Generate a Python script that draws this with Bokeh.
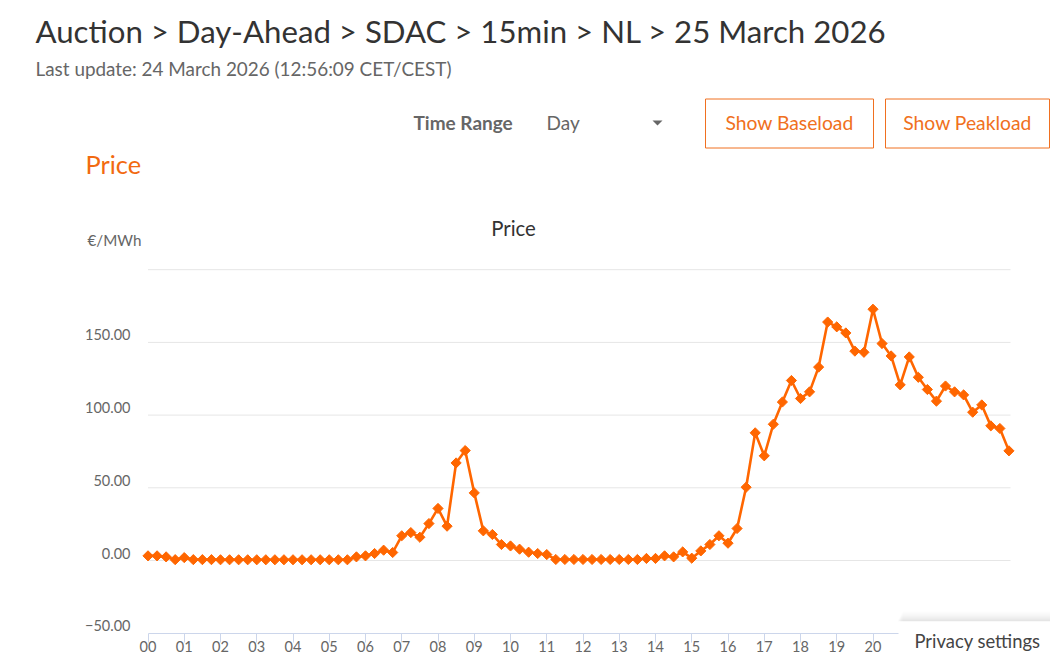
from math import pi

from bokeh.embed import file_html
from bokeh.models import BoxAnnotation, FixedTicker, Label, LinearAxis, PolyAnnotation, Range1d
from bokeh.plotting import figure
from bokeh.resources import INLINE

# ---- data (one point per quarter hour) ----
hours = [i / 4 for i in range(96)]
price = [
    3.2, 3.2, 2.5, 0.6, 2.0, 0.6, 0.6, 0.6,
    0.5, 0.5, 0.5, 0.5, 0.5, 0.5, 0.5, 0.5,
    0.5, 0.5, 0.5, 0.5, 0.5, 0.5, 0.5, 2.5,
    3.2, 4.8, 7.1, 5.5, 17.0, 19.2, 16.0, 25.4,
    35.8, 23.6, 67.1, 75.6, 46.5, 20.4, 17.9, 11.0,
    10.0, 7.8, 5.7, 4.8, 4.1, 0.7, 0.7, 0.7,
    0.7, 0.7, 0.7, 0.7, 0.7, 0.7, 0.7, 1.4,
    1.4, 3.2, 2.5, 5.9, 1.6, 6.6, 11.0, 17.0,
    11.9, 22.0, 50.4, 87.8, 72.0, 93.7, 109.0, 123.8,
    111.4, 116.0, 133.0, 164.0, 160.7, 156.5, 144.0, 143.2,
    172.8, 149.2, 140.7, 120.8, 140.0, 126.0, 117.6, 109.6,
    120.0, 116.0, 113.9, 102.0, 107.0, 92.6, 90.8, 75.4,
]
y_tick_values = [-50, 0, 50, 100, 150]
y_tick_labels = ["\u221250.00", "0.00", "50.00", "100.00", "150.00"]
grid_values = [0, 50, 100, 150, 200]
x_tick_values = list(range(21))
x_tick_labels = [f"{h:02d}" for h in x_tick_values]

FONT = "Lato"
ORANGE = "#ff6600"
W, H = 1050, 654

PX_PER_HOUR = 36.25
PX_PER_UNIT = 1.454
X0, Y0 = 147.5, 560.0   # reference pixel of hour 0 and of price 0


def sx(px):
    return px


def sy(py):
    return H - py


x_range = Range1d((0 - X0) / PX_PER_HOUR, (W - X0) / PX_PER_HOUR)
y_range = Range1d((Y0 - H) / PX_PER_UNIT, Y0 / PX_PER_UNIT)

p = figure(width=W, height=H, output_backend="svg", toolbar_location=None,
           x_range=x_range, y_range=y_range, x_axis_location=None, y_axis_location=None,
           min_border=0, outline_line_color=None, background_fill_color="white")
p.grid.visible = False

X_END = (1010 - X0) / PX_PER_HOUR

# horizontal grid lines stop at the end of the plot area
p.segment(x0=[0] * len(grid_values), x1=[X_END] * len(grid_values),
          y0=grid_values, y1=grid_values, line_color="#e6e6e6", line_width=1)

# x axis
xaxis = LinearAxis(fixed_location=-50, ticker=FixedTicker(ticks=x_tick_values),
                   major_label_overrides={v: s for v, s in zip(x_tick_values, x_tick_labels)},
                   axis_line_color="#ccd6eb", major_tick_line_color="#ccd6eb",
                   major_tick_out=9, major_tick_in=0, minor_tick_line_color=None,
                   major_label_text_font=FONT, major_label_text_font_size="14.5px",
                   major_label_text_color="#666666", major_label_standoff=-1,
                   bounds=(0, X_END))
p.add_layout(xaxis, "below")

# y axis: labels sit 7px above their grid lines, so they use a shifted range
shift = 7.5 / PX_PER_UNIT
p.extra_y_ranges["labels"] = Range1d(y_range.start - shift, y_range.end - shift)
yaxis = LinearAxis(y_range_name="labels", fixed_location=-17.5 / PX_PER_HOUR,
                   ticker=FixedTicker(ticks=y_tick_values),
                   major_label_overrides={v: s for v, s in zip(y_tick_values, y_tick_labels)},
                   axis_line_color=None, major_tick_line_color=None, minor_tick_line_color=None,
                   major_tick_in=0, major_tick_out=0, major_label_standoff=0,
                   major_label_text_font=FONT, major_label_text_font_size="14.5px",
                   major_label_text_color="#666666")
p.add_layout(yaxis, "left")

# series
p.line(hours, price, line_color=ORANGE, line_width=2.6)
p.scatter(hours, price, marker="square", angle=pi / 4, size=7.2, fill_color=ORANGE, line_color=ORANGE)


def text(s, x, y, size, color, align="left", weight="normal"):
    """y is the vertical middle of the text in reference pixels."""
    p.add_layout(Label(x=sx(x), y=sy(y), x_units="screen", y_units="screen", text=s,
                       text_font=FONT, text_font_size=f"{size}px", text_color=color,
                       text_align=align, text_baseline="middle", text_font_style=weight,
                       level="overlay"))


def box(l, r, t, b, fill=None, alpha=1.0, line=None):
    p.add_layout(BoxAnnotation(left=sx(l), right=sx(r), top=sy(t), bottom=sy(b),
                               left_units="screen", right_units="screen",
                               top_units="screen", bottom_units="screen",
                               fill_color=fill, fill_alpha=alpha, line_color=line,
                               line_alpha=1.0, line_width=1, level="overlay"))


# page header
text("Auction > Day-Ahead > SDAC > 15min > NL > 25 March 2026", 35, 30.5, 31.2, "#333333")
text("Last update: 24 March 2026 (12:56:09 CET/CEST)", 35, 68, 18.9, "#666666")
text("Time Range", 413, 121.5, 19, "#666666", weight="bold")
text("Day", 546, 121.5, 19, "#666666")
p.add_layout(PolyAnnotation(xs=[sx(652), sx(662), sx(657)], ys=[sy(120), sy(120), sy(125)],
                            xs_units="screen", ys_units="screen", fill_color="#666666",
                            fill_alpha=1, line_color=None))
box(705, 873, 98.5, 147.5, line="#f07020")
box(885, 1049, 98.5, 147.5, line="#f07020")
text("Show Baseload", 789, 121.5, 19.3, "#f07020", align="center")
text("Show Peakload", 967, 121.5, 19.3, "#f07020", align="center")
text("Price", 85, 163.5, 25.4, "#f26a10")

# chart heads
text("Price", 513, 227, 20.4, "#333333", align="center")
text("\u20ac/MWh", 87, 239, 15.2, "#666666")

# privacy tab
for i, a in enumerate([0.01, 0.015, 0.02, 0.025, 0.03]):
    box(898 + 4 - i, 1050, 611 + 2 * i, 621, fill="#000000", alpha=a)
box(898, 1050, 621, 654, fill="#ffffff")
text("Privacy settings", 914, 640, 18.4, "#444444")

open("out.html", "w").write(file_html(p, INLINE))
